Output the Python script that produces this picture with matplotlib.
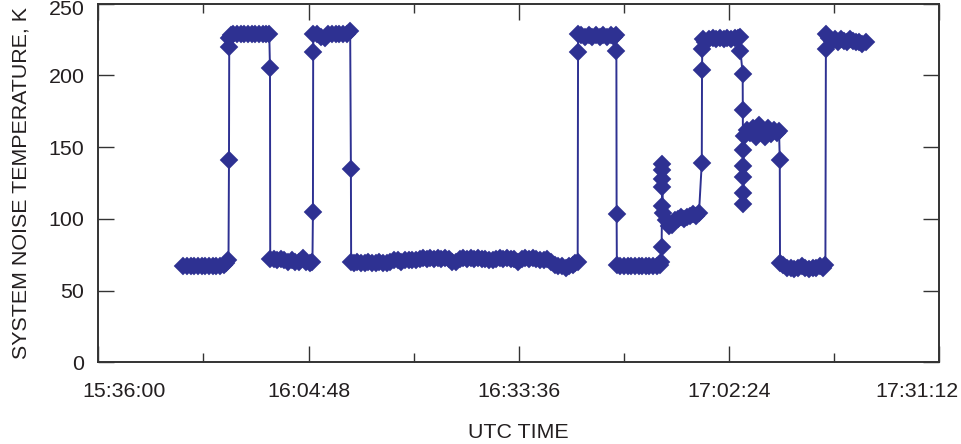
import numpy as np
import matplotlib
matplotlib.use("Agg")
import matplotlib.pyplot as plt
from matplotlib.ticker import FixedLocator, FuncFormatter, MultipleLocator
from matplotlib.transforms import ScaledTranslation

plt.rcParams['font.family'] = ['Liberation Sans', 'DejaVu Sans']
plt.rcParams['font.size'] = 15.4

# UTC time of each sample and the system noise temperature (K)
times = [
    # low 1
    "15:47:40", "15:48:10", "15:48:40", "15:49:10", "15:49:40", "15:50:10", "15:50:40",
    "15:51:10", "15:51:40", "15:52:10", "15:52:40", "15:53:10", "15:53:30", "15:53:50",
    "15:53:54", "15:53:56", "15:53:58",
    # high 1
    "15:54:10", "15:54:30", "15:55:00", "15:55:30", "15:56:00", "15:56:30", "15:57:00",
    "15:57:30", "15:58:00", "15:58:30", "15:59:00", "15:59:25",
    "15:59:31",
    # low 2
    "15:59:33", "16:00:00", "16:00:30", "16:01:00", "16:01:30", "16:02:00", "16:02:30",
    "16:03:00", "16:03:30", "16:04:00", "16:04:30", "16:05:00", "16:05:20",
    "16:05:24", "16:05:26",
    # high 2
    "16:05:28", "16:06:00", "16:06:30", "16:07:00", "16:07:30", "16:08:00", "16:08:30",
    "16:09:00", "16:09:30", "16:10:00", "16:10:30",
    "16:10:36",
    # long low 3
    "16:10:38", "16:11:00", "16:11:30", "16:12:00", "16:12:30", "16:13:00", "16:13:30",
    "16:14:00", "16:14:30", "16:15:00", "16:15:30", "16:16:00",
    "16:16:30", "16:17:00", "16:17:30", "16:18:00", "16:18:30", "16:19:00", "16:19:30",
    "16:20:00", "16:20:30", "16:21:00", "16:21:30", "16:22:00", "16:22:30", "16:23:00",
    "16:23:30", "16:24:00", "16:24:30", "16:25:00",
    "16:25:30", "16:26:00", "16:26:30", "16:27:00", "16:27:30", "16:28:00", "16:28:30",
    "16:29:00", "16:29:30", "16:30:00",
    "16:30:30", "16:31:00", "16:31:30", "16:32:00", "16:32:30", "16:33:00", "16:33:30",
    "16:34:00", "16:34:30", "16:35:00", "16:35:30", "16:36:00", "16:36:30", "16:37:00",
    "16:37:30", "16:38:00", "16:38:30", "16:39:00", "16:39:30", "16:40:00", "16:40:30",
    "16:41:00", "16:41:20", "16:41:40",
    "16:41:43",
    # high 3
    "16:41:45", "16:42:10", "16:42:40", "16:43:10", "16:43:40", "16:44:10", "16:44:40",
    "16:45:10", "16:45:40", "16:46:10", "16:46:40", "16:46:55",
    "16:46:58", "16:47:00",
    # low 4
    "16:47:02", "16:47:30", "16:48:00", "16:48:30", "16:49:00", "16:49:30", "16:50:00",
    "16:50:30", "16:51:00", "16:51:30", "16:52:00", "16:52:30", "16:53:00", "16:53:08",
    "16:53:10", "16:53:12", "16:53:13", "16:53:14", "16:53:15", "16:53:16",
    # ~100 K step
    "16:53:20", "16:53:45", "16:54:10", "16:54:35", "16:55:00", "16:55:25", "16:55:50",
    "16:56:15", "16:56:40", "16:57:05", "16:57:30", "16:57:55", "16:58:17",
    "16:58:40", "16:58:42", "16:58:44",
    # high 4
    "16:58:46", "16:59:10", "16:59:40", "17:00:10", "17:00:40", "17:01:10", "17:01:40",
    "17:02:10", "17:02:40", "17:03:10", "17:03:40", "17:03:55",
    "17:03:58", "17:04:16", "17:04:17", "17:04:18", "17:04:19", "17:04:20", "17:04:21",
    "17:04:22",
    # ~160 K step
    "17:04:24", "17:04:50", "17:05:15", "17:05:40", "17:06:05", "17:06:30", "17:06:55",
    "17:07:20", "17:07:45", "17:08:10", "17:08:35", "17:09:00", "17:09:15",
    "17:09:21",
    # low 5
    "17:09:23", "17:09:50", "17:10:20", "17:10:50", "17:11:20", "17:11:50", "17:12:20",
    "17:12:50", "17:13:20", "17:13:50", "17:14:20", "17:14:50", "17:15:20", "17:15:36",
    "17:15:40",
    # high 5
    "17:15:42", "17:16:05", "17:16:30", "17:16:55", "17:17:20", "17:17:45", "17:18:10",
    "17:18:35", "17:19:00", "17:19:25", "17:19:50", "17:20:15", "17:20:40", "17:21:10",
]

tsys = [
    # low 1
    67, 67, 67, 67, 67, 67, 67,
    67, 67, 67, 67, 68, 69, 71,
    141, 220, 226,
    # high 1
    228, 229, 229, 229, 229, 229, 229,
    229, 229, 229, 229, 229,
    205,
    # low 2
    72, 72, 71, 72, 71, 70, 71,
    70, 70, 73, 70, 69, 70,
    105, 216,
    # high 2
    229, 229, 227, 226, 229, 229, 229,
    229, 229, 229, 231,
    135,
    # long low 3
    70, 69, 70, 69, 69, 70, 69,
    69, 70, 69, 69, 70,
    71, 71, 70, 71, 71, 71, 71,
    72, 73, 72, 73, 72, 73, 72,
    73, 72, 70, 70,
    72, 73, 72, 73, 72, 73, 72,
    72, 71, 71,
    72, 73, 72, 73, 72, 72, 70,
    72, 73, 72, 73, 72, 71, 71,
    72, 70, 68, 67, 67, 66, 67,
    68, 69, 70,
    216,
    # high 3
    229, 228, 227, 228, 227, 228, 227,
    228, 227, 228, 227, 228,
    217, 103,
    # low 4
    68, 67, 67, 67, 67, 67, 67,
    67, 67, 67, 67, 67, 68, 70,
    80, 109, 122, 128, 134, 138,
    # ~100 K step
    104, 99, 95, 96, 99, 100, 101,
    100, 101, 102, 103, 102, 104,
    139, 204, 218,
    # high 4
    225, 223, 225, 226, 225, 226, 225,
    226, 225, 226, 226, 227,
    217, 201, 176, 148, 137, 129, 118,
    110,
    # ~160 K step
    158, 162, 160, 163, 157, 165, 162,
    157, 163, 159, 162, 160, 161,
    141,
    # low 5
    69, 68, 66, 66, 65, 66, 67,
    66, 65, 66, 66, 67, 66, 68,
    218,
    # high 5
    229, 226, 224, 225, 223, 225, 224,
    223, 225, 224, 223, 223, 222, 223,
]

x_ticks = ["15:36:00", "16:04:48", "16:33:36", "17:02:24", "17:31:12"]
y_ticks = [0, 50, 100, 150, 200, 250]


def to_sec(hms):
    h, m, s = (int(v) for v in hms.split(":"))
    return h * 3600 + m * 60 + s


def fmt_hms(sec, pos=None):
    sec = int(round(sec))
    return "%02d:%02d:%02d" % (sec // 3600, sec % 3600 // 60, sec % 60)


assert len(times) == len(tsys)
t = np.array([to_sec(s) for s in times])
v = np.array(tsys, dtype=float)
tick_sec = [to_sec(s) for s in x_ticks]

navy = "#2e3192"
ink = "#231f20"

fig = plt.figure(figsize=(9.61, 4.44), dpi=100)
ax = fig.add_axes([0.1023, 0.184, 0.8751, 0.8081])

ax.plot(t, v, color=navy, lw=1.4, marker="D", ms=8.8,
        mfc=navy, mec=navy, mew=0.3, zorder=3)

ax.set_xlim(tick_sec[0], tick_sec[-1])
ax.set_ylim(0, 250)

ax.xaxis.set_major_locator(FixedLocator(tick_sec))
ax.xaxis.set_minor_locator(MultipleLocator((tick_sec[1] - tick_sec[0]) / 2))
ax.xaxis.set_major_formatter(FuncFormatter(fmt_hms))
ax.yaxis.set_major_locator(FixedLocator(y_ticks))

for sp in ax.spines.values():
    sp.set_linewidth(1.4)
    sp.set_color("#333333")

ax.tick_params(axis="both", which="both", direction="in", top=True, right=True,
               color="#333333", width=1.0, labelcolor=ink, labelsize=15.4)
ax.tick_params(axis="both", which="major", length=11.3)
ax.tick_params(axis="x", which="minor", length=6.5)
ax.tick_params(axis="x", which="major", pad=14)
ax.tick_params(axis="y", which="major", pad=10)

# outer labels are nudged inwards like in the original
ticks = ax.xaxis.get_major_ticks()
for tk, dx in ((ticks[0], 0.26), (ticks[-1], -0.22)):
    tk.label1.set_transform(tk.label1.get_transform()
                            + ScaledTranslation(dx, 0, fig.dpi_scale_trans))
ytop = ax.yaxis.get_major_ticks()[-1]
ytop.label1.set_transform(ytop.label1.get_transform()
                          + ScaledTranslation(0, -0.04, fig.dpi_scale_trans))

ax.set_xlabel("UTC TIME", color=ink, fontsize=15.4)
ax.set_ylabel("SYSTEM NOISE TEMPERATURE, K", color=ink, fontsize=15.4)
ax.xaxis.set_label_coords(0.5, -0.169)
ax.yaxis.set_label_coords(-0.081, 0.5)

fig.savefig("out.png", dpi=100)
